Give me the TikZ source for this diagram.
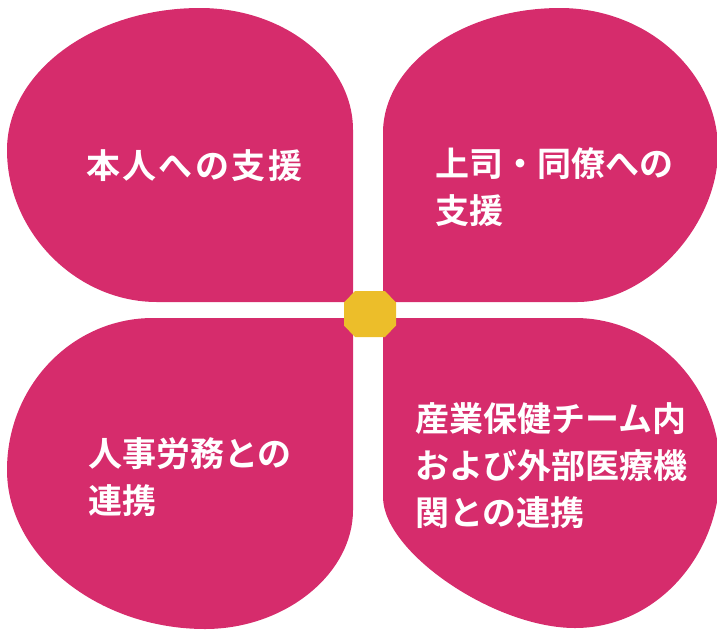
\documentclass[tikz,border=0pt]{standalone}
\usepackage{fontspec}
\newfontfamily\jpfont{Noto Sans CJK JP}[BoldFont={Noto Sans CJK JP Bold}]
\definecolor{petal}{RGB}{214,44,108}
\definecolor{hub}{RGB}{236,190,42}
\tikzset{
  petalfill/.style={fill=petal, draw=none},
  label/.style={font=\jpfont\bfseries\fontsize{34}{47}\selectfont, text=white, align=left, inner sep=0pt, anchor=north west}
}
\begin{document}
\begin{tikzpicture}[x=1pt,y=-1pt]
\useasboundingbox (0,0) rectangle (717,630);
\clip (0,0) rectangle (717,630);
% top-left petal
\fill[petalfill] (353,302) -- (157,302) .. controls (76,302) and (7,232) .. (7,150)
  .. controls (7,72) and (93.5,8) .. (200,8) .. controls (284.5,8) and (353,63) .. (353,130) -- cycle;
% top-right petal
\fill[petalfill] (383,302) -- (383,133) .. controls (383,64) and (463,8) .. (560,8)
  .. controls (647,8) and (718,72) .. (718,150) .. controls (718,226) and (647.5,302) .. (577,302) -- cycle;
% bottom-left petal
\fill[petalfill] (353,318) -- (153,318) .. controls (72,318) and (7,386) .. (7,470)
  .. controls (7,556) and (98,629) .. (205,629) .. controls (285,629) and (353,574) .. (353,510) -- cycle;
% bottom-right petal
\fill[petalfill] (383,318) -- (575,318) .. controls (655,318) and (720,386) .. (720,470)
  .. controls (720,557) and (655,628) .. (575,628) .. controls (494,628) and (383,552) .. (383,497) -- cycle;
% centre octagon
\fill[hub] (355,291) -- (385,291) -- (396,302.5) -- (396,325.5) -- (385,337) -- (355,337) -- (344,325.5) -- (344,302.5) -- cycle;
% labels
\node[label] (tl) at (86,149) {\addfontfeatures{LetterSpace=7}本人への支援};
\node[label] (tr) at (435,147) {上司・同僚への\\支援};
\node[label] (bl) at (88,437) {人事労務との\\連携};
\node[label] (br) at (415,402) {産業保健チーム内\\および外部医療機\\関との連携};
\end{tikzpicture}
\end{document}
